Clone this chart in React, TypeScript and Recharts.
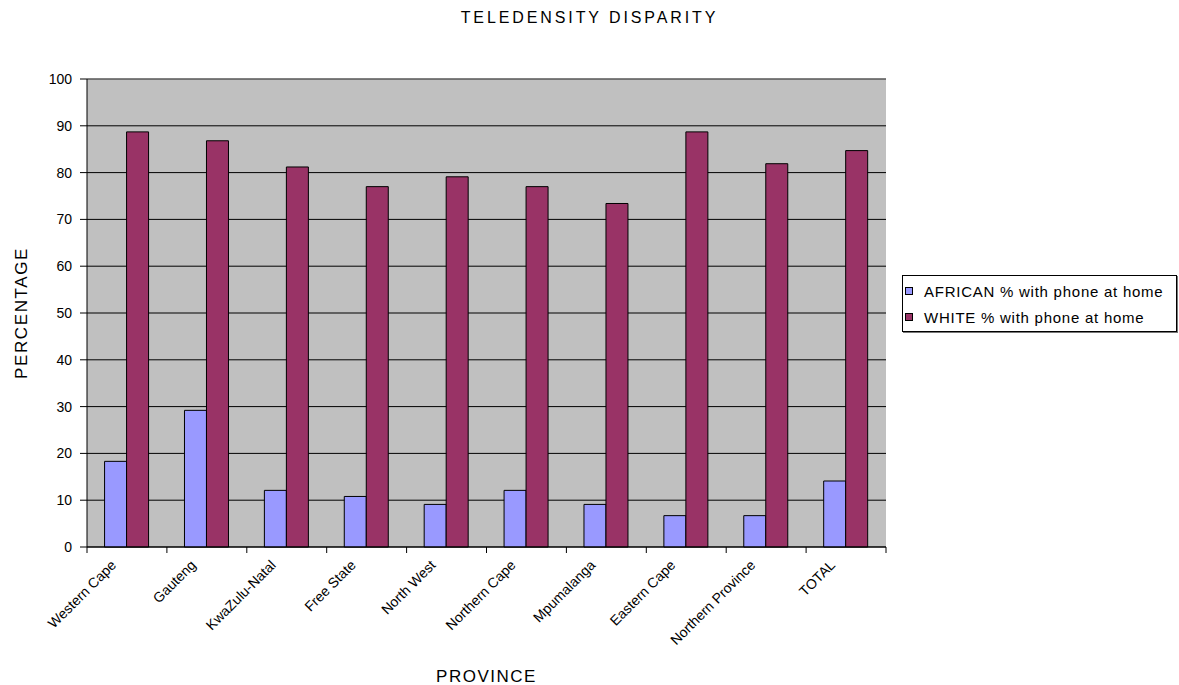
import React from 'react';
import { BarChart, Bar, XAxis, YAxis, CartesianGrid, Legend, ReferenceLine } from 'recharts';

// Households with a telephone at home, by province (percent)
const provinces = [
  'Western Cape',
  'Gauteng',
  'KwaZulu-Natal',
  'Free State',
  'North West',
  'Northern Cape',
  'Mpumalanga',
  'Eastern Cape',
  'Northern Province',
  'TOTAL',
];
const africanPct = [18.3, 29.2, 12.1, 10.8, 9.1, 12.1, 9.1, 6.7, 6.7, 14.1];
const whitePct = [88.7, 86.8, 81.2, 77.0, 79.1, 77.0, 73.4, 88.7, 81.9, 84.7];
const yTicks = [0, 10, 20, 30, 40, 50, 60, 70, 80, 90, 100];

const AFRICAN_NAME = 'AFRICAN % with phone at home';
const WHITE_NAME = 'WHITE % with phone at home';

const data = provinces.map((province, i) => ({
  province,
  african: africanPct[i],
  white: whitePct[i],
}));

const FONT = 'Arial, "Liberation Sans", sans-serif';

// Category labels rotated 45°, with tick marks on the category boundaries
function ProvinceTick(props: any) {
  const { x, y, payload, index } = props;
  const half = payload && typeof payload.offset === 'number' && payload.offset > 0 ? payload.offset : 39.95;
  const lx = x - 10;
  const ly = y + 19;
  return (
    <g>
      <line x1={x - half} y1={y} x2={x - half} y2={y + 6} stroke="#000" strokeWidth={1} />
      {index === provinces.length - 1 && (
        <line x1={x + half} y1={y} x2={x + half} y2={y + 6} stroke="#000" strokeWidth={1} />
      )}
      <text
        x={lx}
        y={ly}
        transform={`rotate(-45, ${lx}, ${ly})`}
        textAnchor="end"
        fontSize={14}
        fontFamily={FONT}
        fill="#000"
      >
        {payload.value}
      </text>
    </g>
  );
}

function LegendBox(props: any) {
  const items = props.payload || [];
  return (
    <div
      style={{
        width: 275,
        height: 57,
        boxSizing: 'border-box',
        border: '1px solid #000',
        background: '#fff',
        padding: '2px 0 2px 2px',
        fontFamily: FONT,
        fontSize: 15,
        letterSpacing: 0.75,
        color: '#000',
        whiteSpace: 'nowrap',
        boxShadow: '1px 1px 0 #777',
      }}
    >
      {items.map((it: any) => (
        <div key={it.value} style={{ display: 'flex', alignItems: 'center', height: 26 }}>
          <span
            style={{
              display: 'inline-block',
              width: 6,
              height: 6,
              background: it.color,
              border: '1px solid #000',
              marginRight: 11,
              flex: 'none',
            }}
          />
          <span>{it.value}</span>
        </div>
      ))}
    </div>
  );
}

export default function App() {
  return (
    <div
      style={{
        position: 'fixed',
        left: 0,
        top: 0,
        width: 1179,
        height: 685,
        background: '#fff',
        overflow: 'hidden',
      }}
    >
      <div
        style={{
          position: 'absolute',
          top: 10,
          left: 0,
          width: 1179,
          textAlign: 'center',
          fontFamily: FONT,
          fontSize: 16,
          lineHeight: '16px',
          letterSpacing: 2.9,
          color: '#000',
          paddingLeft: 0,
          boxSizing: 'border-box',
        }}
      >
        TELEDENSITY DISPARITY
      </div>
      <BarChart
        width={1179}
        height={685}
        data={data}
        margin={{ top: 79, right: 293, bottom: 0, left: 0 }}
        barCategoryGap="22%"
        barGap={0}
      >
        <CartesianGrid vertical={false} stroke="#000" strokeWidth={1} fill="#C0C0C0" />
        <XAxis
          dataKey="province"
          height={138}
          tickSize={0}
          tickMargin={0}
          tickLine={false}
          interval={0}
          axisLine={{ stroke: '#000', strokeWidth: 1 }}
          tick={<ProvinceTick />}
          label={{
            value: 'PROVINCE',
            position: 'insideBottom',
            offset: 3,
            style: { fontFamily: FONT, fontSize: 17, letterSpacing: 1.5, fill: '#000' },
          }}
        />
        <YAxis
          width={87}
          domain={[0, 100]}
          ticks={yTicks}
          interval={0}
          tickSize={7}
          tickMargin={8}
          tickLine={{ stroke: '#000' }}
          axisLine={{ stroke: '#000', strokeWidth: 1 }}
          tick={{ fontFamily: FONT, fontSize: 14, fill: '#000' }}
          label={{
            value: 'PERCENTAGE',
            angle: -90,
            position: 'insideLeft',
            offset: 21,
            style: { fontFamily: FONT, fontSize: 17, letterSpacing: 1.6, fill: '#000', textAnchor: 'middle' },
          }}
        />
        <YAxis
          yAxisId="frame"
          orientation="right"
          width={0}
          domain={[0, 100]}
          tick={false}
          tickLine={false}
          axisLine={{ stroke: '#808080', strokeWidth: 1 }}
        />
        <ReferenceLine y={100} stroke="#808080" strokeWidth={1} />
        <Legend
          layout="horizontal"
          align="center"
          verticalAlign="middle"
          wrapperStyle={{ left: 902, top: 275 }}
          content={<LegendBox />}
        />
        <Bar
          dataKey="african"
          name={AFRICAN_NAME}
          fill="#9999FF"
          stroke="#000"
          strokeWidth={1}
          isAnimationActive={false}
        />
        <Bar
          dataKey="white"
          name={WHITE_NAME}
          fill="#993366"
          stroke="#000"
          strokeWidth={1}
          isAnimationActive={false}
        />
      </BarChart>
    </div>
  );
}
